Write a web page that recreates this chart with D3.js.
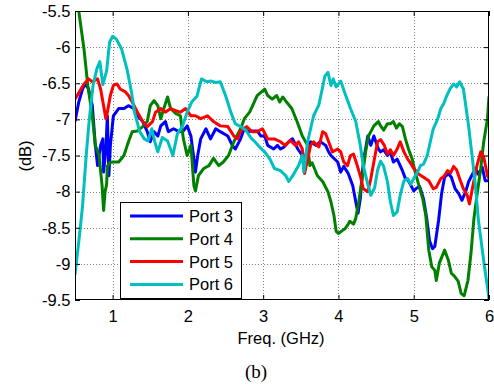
<!DOCTYPE html>
<html>
<head>
<meta charset="utf-8">
<script src="https://cdn.jsdelivr.net/npm/d3@7"></script>
<style>
  body { margin: 0; background: #fff; }
  svg text { font-family: "Liberation Sans", Arial, sans-serif; }
</style>
</head>
<body>
<svg id="chart" width="494" height="389"></svg>
<script>
// frequency (GHz), level (dB) pairs
const port3 = [[0.5,-7.03],[0.55,-6.76],[0.6,-6.58],[0.64,-6.51],[0.68,-6.58],[0.73,-6.81],[0.77,-7.36],[0.8,-7.64],[0.84,-7.36],[0.87,-7.27],[0.88,-7.73],[0.91,-7.41],[0.93,-6.95],[0.95,-7.78],[0.97,-7.36],[1.01,-6.95],[1.08,-6.85],[1.15,-6.85],[1.21,-6.81],[1.28,-6.85],[1.33,-6.95],[1.4,-7.03],[1.46,-7.17],[1.5,-7.31],[1.55,-7.17],[1.6,-7.23],[1.64,-7.09],[1.7,-7.03],[1.74,-7.17],[1.81,-7.13],[1.88,-7.17],[1.94,-7.16],[1.99,-7.09],[2.04,-7.23],[2.08,-7.55],[2.1,-7.73],[2.13,-7.5],[2.17,-7.27],[2.24,-7.13],[2.3,-7.27],[2.37,-7.13],[2.43,-7.17],[2.53,-7.23],[2.59,-7.36],[2.63,-7.41],[2.7,-7.27],[2.75,-7.12],[2.79,-7.17],[2.85,-7.16],[2.92,-7.16],[2.97,-7.23],[3.02,-7.23],[3.06,-7.36],[3.14,-7.41],[3.19,-7.36],[3.23,-7.41],[3.28,-7.38],[3.36,-7.29],[3.39,-7.27],[3.46,-7.41],[3.52,-7.5],[3.55,-7.56],[3.59,-7.4],[3.63,-7.31],[3.7,-7.36],[3.76,-7.31],[3.83,-7.36],[3.87,-7.45],[3.9,-7.5],[3.99,-7.59],[4.03,-7.73],[4.07,-7.65],[4.13,-7.75],[4.19,-7.92],[4.23,-8.14],[4.26,-8.3],[4.29,-8.1],[4.33,-7.59],[4.39,-7.23],[4.43,-7.36],[4.47,-7.23],[4.53,-7.41],[4.56,-7.45],[4.6,-7.42],[4.65,-7.5],[4.69,-7.45],[4.73,-7.59],[4.78,-7.55],[4.85,-7.71],[4.89,-7.82],[4.93,-7.85],[5.0,-7.99],[5.04,-7.95],[5.08,-7.93],[5.13,-8.1],[5.17,-8.35],[5.21,-8.68],[5.25,-8.79],[5.28,-8.76],[5.33,-8.4],[5.37,-8.03],[5.41,-7.8],[5.46,-7.75],[5.5,-7.8],[5.55,-7.96],[5.6,-8.03],[5.64,-8.12],[5.69,-8.0],[5.73,-7.86],[5.78,-7.76],[5.82,-7.68],[5.86,-7.76],[5.91,-7.66],[5.95,-7.85],[6.0,-7.85]];

const port4 = [[0.5,-5.12],[0.55,-5.5],[0.62,-6.03],[0.67,-6.53],[0.73,-6.95],[0.77,-7.36],[0.82,-7.5],[0.86,-7.92],[0.88,-8.26],[0.9,-8.0],[0.92,-7.9],[0.93,-7.65],[0.96,-7.6],[1.0,-7.59],[1.08,-7.59],[1.15,-7.5],[1.21,-7.31],[1.26,-7.17],[1.33,-7.16],[1.4,-7.1],[1.46,-7.03],[1.5,-6.81],[1.55,-6.74],[1.6,-6.81],[1.64,-6.99],[1.68,-6.85],[1.73,-6.69],[1.77,-6.85],[1.84,-6.92],[1.9,-6.95],[1.94,-7.27],[1.99,-7.5],[2.04,-7.36],[2.08,-7.92],[2.1,-7.99],[2.14,-7.78],[2.21,-7.68],[2.28,-7.64],[2.34,-7.54],[2.41,-7.64],[2.47,-7.59],[2.54,-7.5],[2.61,-7.31],[2.7,-7.13],[2.75,-6.99],[2.82,-6.9],[2.86,-6.81],[2.92,-6.67],[3.02,-6.58],[3.06,-6.67],[3.12,-6.72],[3.18,-6.67],[3.22,-6.76],[3.26,-6.69],[3.31,-6.76],[3.38,-6.85],[3.45,-7.03],[3.52,-7.23],[3.59,-7.36],[3.62,-7.64],[3.65,-7.6],[3.72,-7.78],[3.79,-7.86],[3.86,-8.0],[3.9,-8.14],[3.94,-8.33],[3.97,-8.55],[4.0,-8.58],[4.05,-8.54],[4.09,-8.51],[4.13,-8.45],[4.15,-8.41],[4.2,-8.45],[4.23,-8.37],[4.27,-8.14],[4.32,-7.78],[4.36,-7.45],[4.4,-7.23],[4.47,-7.09],[4.53,-7.03],[4.56,-7.09],[4.6,-7.15],[4.65,-7.06],[4.69,-7.06],[4.73,-7.03],[4.77,-7.12],[4.81,-7.06],[4.85,-7.1],[4.89,-7.27],[4.93,-7.41],[4.98,-7.55],[5.02,-7.73],[5.07,-7.92],[5.12,-8.1],[5.16,-8.33],[5.2,-8.81],[5.24,-9.04],[5.28,-9.09],[5.3,-9.23],[5.34,-8.99],[5.41,-8.81],[5.46,-8.95],[5.5,-9.13],[5.54,-9.17],[5.59,-9.24],[5.63,-9.41],[5.67,-9.44],[5.72,-9.23],[5.76,-8.86],[5.8,-8.37],[5.84,-8.05],[5.89,-7.68],[5.93,-7.31],[5.98,-6.99],[6.0,-6.68]];

const port5 = [[0.5,-6.72],[0.58,-6.58],[0.62,-6.51],[0.68,-6.44],[0.73,-6.48],[0.8,-6.44],[0.84,-6.58],[0.88,-6.81],[0.91,-6.99],[0.93,-6.9],[0.97,-6.67],[1.01,-6.53],[1.06,-6.51],[1.1,-6.58],[1.17,-6.62],[1.21,-6.67],[1.26,-6.76],[1.33,-6.9],[1.4,-7.03],[1.46,-7.1],[1.53,-7.03],[1.57,-6.9],[1.64,-6.85],[1.7,-6.9],[1.77,-6.85],[1.84,-6.88],[1.9,-6.9],[1.97,-6.85],[2.04,-6.95],[2.1,-6.95],[2.17,-6.99],[2.26,-6.95],[2.34,-7.03],[2.43,-7.09],[2.53,-7.1],[2.61,-7.23],[2.66,-7.27],[2.7,-7.16],[2.78,-7.1],[2.85,-7.17],[2.92,-7.17],[2.99,-7.13],[3.06,-7.27],[3.15,-7.27],[3.23,-7.31],[3.29,-7.36],[3.36,-7.29],[3.43,-7.36],[3.47,-7.31],[3.52,-7.41],[3.55,-7.75],[3.59,-7.55],[3.63,-7.36],[3.67,-7.31],[3.74,-7.38],[3.79,-7.17],[3.83,-7.2],[3.87,-7.31],[3.92,-7.45],[3.99,-7.41],[4.03,-7.45],[4.07,-7.59],[4.12,-7.64],[4.16,-7.5],[4.2,-7.48],[4.25,-7.64],[4.29,-7.78],[4.33,-7.96],[4.39,-8.0],[4.43,-7.82],[4.47,-7.59],[4.52,-7.31],[4.56,-7.28],[4.61,-7.36],[4.65,-7.48],[4.69,-7.42],[4.73,-7.5],[4.78,-7.41],[4.82,-7.31],[4.87,-7.45],[4.92,-7.55],[4.96,-7.61],[5.0,-7.68],[5.07,-7.76],[5.13,-7.8],[5.2,-7.85],[5.26,-7.96],[5.3,-7.94],[5.36,-7.82],[5.4,-7.79],[5.45,-7.71],[5.49,-7.74],[5.53,-7.65],[5.57,-7.7],[5.62,-7.85],[5.66,-7.96],[5.71,-8.05],[5.74,-8.17],[5.79,-7.9],[5.84,-7.64],[5.89,-7.45],[5.93,-7.52],[5.98,-7.78],[6.0,-7.82]];

const port6 = [[0.5,-9.15],[0.56,-8.6],[0.6,-8.2],[0.65,-7.48],[0.69,-7.0],[0.74,-6.53],[0.79,-6.3],[0.83,-6.2],[0.87,-6.52],[0.92,-6.33],[0.96,-5.93],[1.0,-5.85],[1.05,-5.89],[1.12,-6.03],[1.19,-6.3],[1.25,-6.62],[1.29,-6.9],[1.36,-7.17],[1.42,-7.27],[1.47,-7.3],[1.52,-7.13],[1.56,-7.31],[1.6,-7.45],[1.66,-7.25],[1.73,-7.3],[1.8,-7.5],[1.86,-7.2],[1.93,-7.09],[1.99,-6.9],[2.05,-6.76],[2.12,-6.68],[2.18,-6.44],[2.25,-6.48],[2.31,-6.47],[2.37,-6.49],[2.43,-6.48],[2.5,-6.67],[2.57,-6.9],[2.63,-7.06],[2.7,-7.1],[2.77,-7.15],[2.84,-7.26],[2.89,-7.31],[2.95,-7.38],[3.02,-7.45],[3.09,-7.55],[3.15,-7.68],[3.23,-7.71],[3.3,-7.78],[3.34,-7.86],[3.41,-7.75],[3.47,-7.64],[3.52,-7.5],[3.54,-7.73],[3.59,-7.31],[3.63,-7.13],[3.67,-6.95],[3.74,-6.8],[3.78,-6.6],[3.82,-6.4],[3.86,-6.35],[3.9,-6.53],[3.93,-6.44],[3.97,-6.55],[4.03,-6.47],[4.08,-6.62],[4.16,-6.85],[4.23,-7.03],[4.29,-7.36],[4.33,-7.64],[4.39,-7.9],[4.43,-8.05],[4.48,-7.95],[4.52,-7.7],[4.56,-7.58],[4.6,-7.65],[4.65,-7.86],[4.69,-8.14],[4.73,-8.33],[4.78,-8.28],[4.82,-8.05],[4.87,-7.85],[4.92,-7.82],[4.96,-7.9],[5.0,-7.82],[5.05,-7.73],[5.09,-7.64],[5.13,-7.62],[5.18,-7.5],[5.22,-7.31],[5.26,-7.13],[5.32,-6.99],[5.36,-6.85],[5.4,-6.78],[5.44,-6.67],[5.48,-6.58],[5.53,-6.51],[5.57,-6.55],[5.61,-6.48],[5.66,-6.58],[5.69,-6.8],[5.73,-7.1],[5.78,-7.55],[5.82,-7.92],[5.86,-8.4],[5.9,-8.72],[5.94,-9.04],[5.99,-9.4],[6.0,-9.5]];

const seriesNames = ["Port 3", "Port 4", "Port 5", "Port 6"];
const seriesColors = ["#0000ff", "#008000", "#ff0000", "#00bfbf"];
const xTicks = [1, 2, 3, 4, 5, 6];
const yTicks = [-9.5, -9, -8.5, -8, -7.5, -7, -6.5, -6, -5.5];

const svg = d3.select("#chart");
const plotL = 75, plotR = 489, plotT = 11, plotB = 300;

const x = d3.scaleLinear().domain([0.5, 6]).range([plotL, plotR]);
const y = d3.scaleLinear().domain([-9.5, -5.5]).range([plotB, plotT]);

// grid
const grid = svg.append("g")
  .attr("stroke", "#808080")
  .attr("stroke-width", 1)
  .attr("stroke-dasharray", "1,2");
grid.selectAll("line.gx")
  .data(xTicks.filter(d => d < 6))
  .enter().append("line")
  .attr("x1", d => Math.round(x(d)) + 0.5).attr("x2", d => Math.round(x(d)) + 0.5)
  .attr("y1", plotT).attr("y2", plotB);
grid.selectAll("line.gy")
  .data(yTicks.filter(d => d > -9.5 && d < -5.5))
  .enter().append("line")
  .attr("y1", d => Math.round(y(d)) + 0.5).attr("y2", d => Math.round(y(d)) + 0.5)
  .attr("x1", plotL).attr("x2", plotR);

// lines
svg.append("clipPath").attr("id", "clip")
  .append("rect")
  .attr("x", plotL).attr("y", plotT)
  .attr("width", plotR - plotL).attr("height", plotB - plotT);

const line = d3.line()
  .x(d => x(d[0]))
  .y(d => y(d[1]));

const allSeries = [port3, port4, port5, port6];
svg.append("g").attr("clip-path", "url(#clip)")
  .selectAll("path")
  .data(allSeries)
  .enter().append("path")
  .attr("d", line)
  .attr("fill", "none")
  .attr("stroke", (d, i) => seriesColors[i])
  .attr("stroke-width", 3)
  .attr("stroke-linejoin", "round");

// axes
const fmt = d => String(d);
svg.append("g")
  .attr("transform", "translate(0," + plotB + ")")
  .call(d3.axisBottom(x).tickValues(xTicks).tickFormat(fmt).tickSize(-5).tickPadding(10));
svg.append("g")
  .attr("transform", "translate(" + plotL + ",0)")
  .call(d3.axisLeft(y).tickValues(yTicks).tickFormat(fmt).tickSize(-5).tickPadding(4.5));
svg.append("g")
  .attr("transform", "translate(0," + plotT + ")")
  .call(d3.axisTop(x).tickValues(xTicks).tickFormat("").tickSize(-5));
svg.append("g")
  .attr("transform", "translate(" + plotR + ",0)")
  .call(d3.axisRight(y).tickValues(yTicks).tickFormat("").tickSize(-5));

svg.selectAll(".domain").remove();
svg.selectAll(".tick line").attr("stroke", "#000");
svg.selectAll(".tick text")
  .attr("font-family", "Liberation Sans, Arial, sans-serif")
  .attr("font-size", 16.5)
  .attr("fill", "#000");

svg.append("rect")
  .attr("x", plotL + 0.5).attr("y", plotT + 0.5)
  .attr("width", plotR - plotL - 1).attr("height", plotB - plotT - 1)
  .attr("fill", "none").attr("stroke", "#000").attr("stroke-width", 1);

// labels
svg.append("text")
  .attr("x", 281).attr("y", 344)
  .attr("text-anchor", "middle")
  .attr("font-size", 16.5)
  .text("Freq. (GHz)");

svg.append("text")
  .attr("transform", "translate(25,156) rotate(-90)")
  .attr("text-anchor", "middle")
  .attr("dominant-baseline", "central")
  .attr("font-size", 16.5)
  .text("(dB)");

svg.append("text")
  .attr("x", 256).attr("y", 378)
  .attr("text-anchor", "middle")
  .attr("font-size", 19)
  .style("font-family", "'Liberation Serif', 'Times New Roman', serif")
  .text("(b)");

// legend
const legend = svg.append("g");
legend.append("rect")
  .attr("x", 120.5).attr("y", 202.5)
  .attr("width", 121).attr("height", 96)
  .attr("fill", "#fff").attr("stroke", "#000").attr("stroke-width", 1);
const rows = legend.selectAll("g.row")
  .data(seriesNames)
  .enter().append("g")
  .attr("transform", (d, i) => "translate(0," + (216 + i * 22.8) + ")");
rows.append("line")
  .attr("x1", 130).attr("x2", 183)
  .attr("stroke", (d, i) => seriesColors[i])
  .attr("stroke-width", 3);
rows.append("text")
  .attr("x", 189)
  .attr("dy", "0.36em")
  .attr("font-size", 16.5)
  .text(d => d);
</script>
</body>
</html>
